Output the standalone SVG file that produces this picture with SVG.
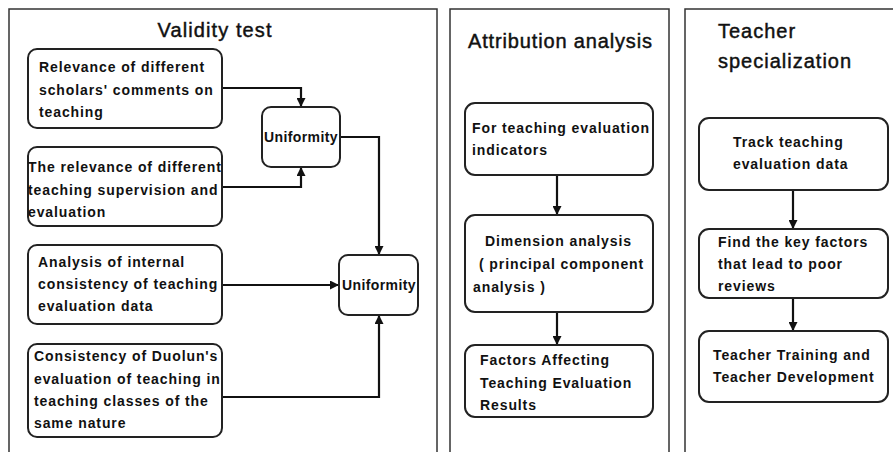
<svg xmlns="http://www.w3.org/2000/svg" width="893" height="452" viewBox="0 0 893 452">
<style>
.panel{fill:#fff;stroke:#333;stroke-width:1.5}
.box{fill:#fff;stroke:#222;stroke-width:2}
.t{font-family:"Liberation Sans",Arial,sans-serif;font-weight:bold;font-size:14px;fill:#111;letter-spacing:0.9px}
.u{font-family:"Liberation Sans",Arial,sans-serif;font-weight:bold;font-size:14px;fill:#111;letter-spacing:0.4px}
.h{font-family:"Liberation Sans",Arial,sans-serif;font-size:20px;fill:#111;stroke:#111;stroke-width:0.45px;letter-spacing:1px}
.c{fill:none;stroke:#111;stroke-width:2.2}
</style>
<defs>
<marker id="ah" viewBox="0 0 10 10" refX="10" refY="5" markerWidth="10" markerHeight="9" markerUnits="userSpaceOnUse" orient="auto">
<path d="M0,0 L10,5 L0,10 z" fill="#111"/>
</marker>
</defs>
<rect width="893" height="452" fill="#fff"/>
<g id="panel-validity">
<rect class="panel" x="9" y="9" width="428" height="460"/>
<text class="h" x="215" y="37" text-anchor="middle" textLength="115" lengthAdjust="spacing">Validity test</text>
</g>
<g id="panel-attribution">
<rect class="panel" x="450" y="9" width="219" height="460"/>
<text class="h" x="468" y="48" textLength="185" lengthAdjust="spacing">Attribution analysis</text>
</g>
<g id="panel-teacher">
<rect class="panel" x="685" y="9" width="220" height="460"/>
<text class="h" x="718" y="38">Teacher</text>
<text class="h" x="718" y="68">specialization</text>
</g>
<g id="connectors">
<path class="c" d="M222,88 H301 V107" marker-end="url(#ah)"/>
<path class="c" d="M222,187 H301 V167" marker-end="url(#ah)"/>
<path class="c" d="M340,137 H379 V255" marker-end="url(#ah)"/>
<path class="c" d="M222,285 H339" marker-end="url(#ah)"/>
<path class="c" d="M222,397 H379 V315" marker-end="url(#ah)"/>
<path class="c" d="M557,175 V215" marker-end="url(#ah)"/>
<path class="c" d="M557,312 V345" marker-end="url(#ah)"/>
<path class="c" d="M793,190 V229" marker-end="url(#ah)"/>
<path class="c" d="M793,298 V331" marker-end="url(#ah)"/>
</g>
<g id="n-scholars">
<rect class="box" x="28" y="49" width="194" height="79" rx="9"/>
<text class="t" x="39" y="72">Relevance of different</text>
<text class="t" x="39" y="95">scholars' comments on</text>
<text class="t" x="39" y="117">teaching</text>
</g>
<g id="n-supervision">
<rect class="box" x="28" y="147" width="194" height="79" rx="9"/>
<text class="t" x="28" y="172">The relevance of different</text>
<text class="t" x="28" y="195">teaching supervision and</text>
<text class="t" x="28" y="217">evaluation</text>
</g>
<g id="n-uniformity1">
<rect class="box" x="262" y="107" width="78" height="60" rx="9"/>
<text class="u" x="301" y="142" text-anchor="middle">Uniformity</text>
</g>
<g id="n-internal">
<rect class="box" x="28" y="245" width="194" height="79" rx="9"/>
<text class="t" x="38" y="267">Analysis of internal</text>
<text class="t" x="38" y="289">consistency of teaching</text>
<text class="t" x="38" y="311">evaluation data</text>
</g>
<g id="n-uniformity2">
<rect class="box" x="339" y="255" width="79" height="60" rx="9"/>
<text class="u" x="379" y="290" text-anchor="middle">Uniformity</text>
</g>
<g id="n-duolun">
<rect class="box" x="28" y="344" width="194" height="93" rx="9"/>
<text class="t" x="34" y="361">Consistency of Duolun's</text>
<text class="t" x="34" y="384">evaluation of teaching in</text>
<text class="t" x="34" y="406">teaching classes of the</text>
<text class="t" x="34" y="428">same nature</text>
</g>
<g id="n-indicators">
<rect class="box" x="465" y="103" width="188" height="72" rx="10"/>
<text class="t" x="472" y="133">For teaching evaluation</text>
<text class="t" x="472" y="155">indicators</text>
</g>
<g id="n-dimension">
<rect class="box" x="465" y="215" width="188" height="97" rx="10"/>
<text class="t" x="485" y="246">Dimension analysis</text>
<text class="t" x="479" y="269">( principal component</text>
<text class="t" x="473" y="292">analysis )</text>
</g>
<g id="n-factors">
<rect class="box" x="465" y="345" width="188" height="72" rx="10"/>
<text class="t" x="480" y="365">Factors Affecting</text>
<text class="t" x="480" y="388">Teaching Evaluation</text>
<text class="t" x="480" y="410">Results</text>
</g>
<g id="n-track">
<rect class="box" x="699" y="118" width="189" height="72" rx="10"/>
<text class="t" x="733" y="147">Track teaching</text>
<text class="t" x="733" y="169">evaluation data</text>
</g>
<g id="n-keyfactors">
<rect class="box" x="699" y="229" width="189" height="69" rx="10"/>
<text class="t" x="718" y="247">Find the key factors</text>
<text class="t" x="718" y="269">that lead to poor</text>
<text class="t" x="718" y="291">reviews</text>
</g>
<g id="n-training">
<rect class="box" x="699" y="331" width="189" height="71" rx="10"/>
<text class="t" x="713" y="360">Teacher Training and</text>
<text class="t" x="713" y="382">Teacher Development</text>
</g>
</svg>
